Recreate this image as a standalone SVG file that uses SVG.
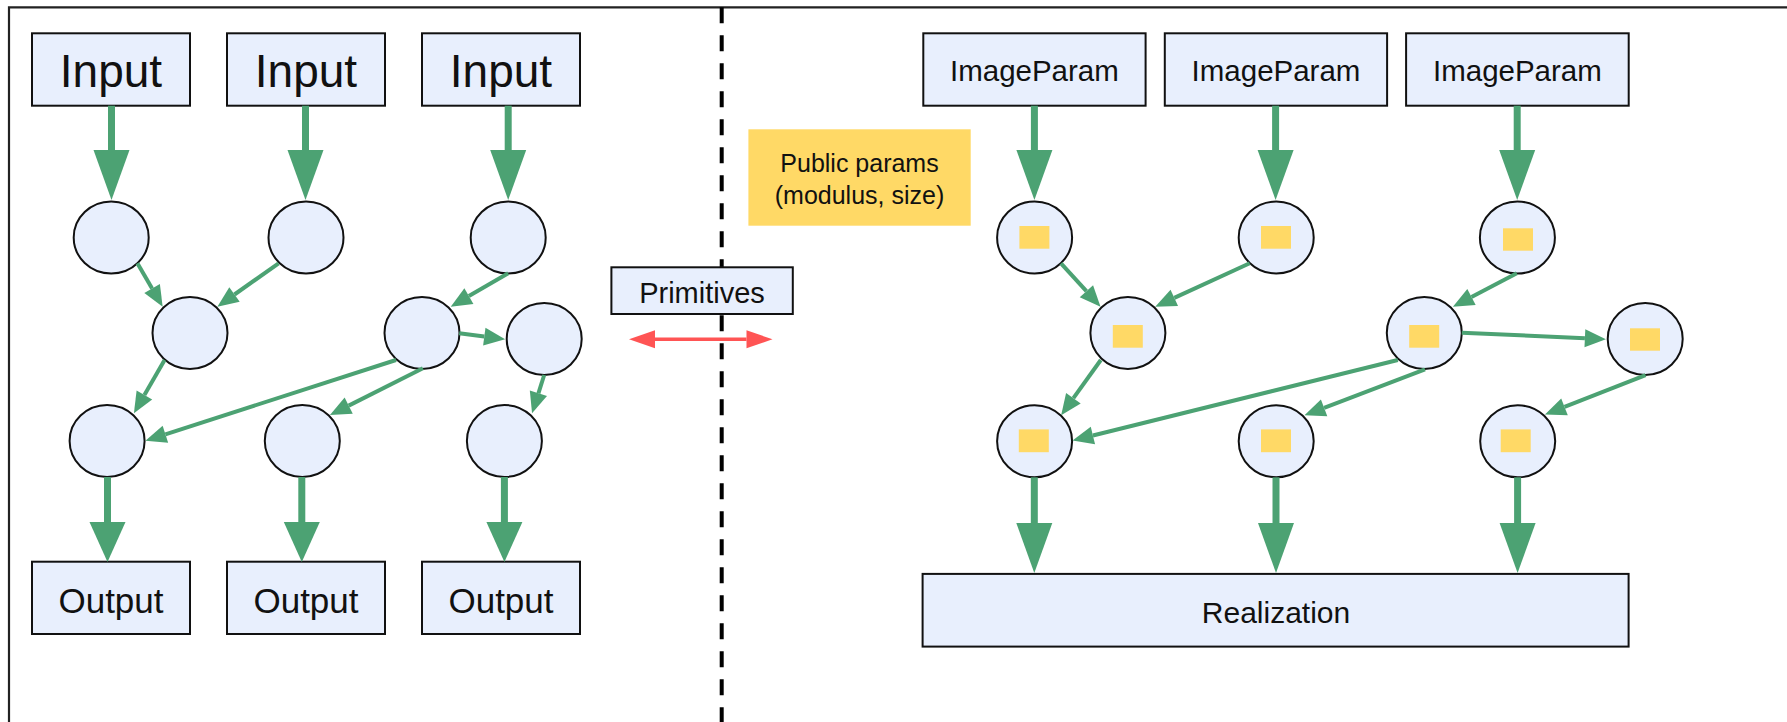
<svg xmlns="http://www.w3.org/2000/svg" width="1787" height="722" viewBox="0 0 1787 722">
  <style>
    .box { fill: #e8effd; stroke: #111; stroke-width: 2; }
    .op { fill: #e8effd; stroke: #111; stroke-width: 2; }
    .chip { fill: #ffd966; }
    .lbl { font-family: "Liberation Sans", Arial, sans-serif; fill: #111; text-anchor: middle; }
    .thick { stroke: #4ca273; stroke-width: 7; fill: none; }
    .thin { stroke: #4ca273; stroke-width: 4; fill: none; }
    .frame { stroke: #222; stroke-width: 2.2; fill: none; }
    .divider { stroke: #000; stroke-width: 4; stroke-dasharray: 16 12; fill: none; }
    .both { stroke: #ff5454; stroke-width: 3.5; fill: none; }
  </style>
  <defs>
    <marker id="headBig" markerUnits="userSpaceOnUse" orient="auto" refX="0" refY="0" markerWidth="52" markerHeight="38" viewBox="0 -19 52 38" overflow="visible">
      <path d="M0,-18 L50,0 L0,18 Z" fill="#4ca273"/>
    </marker>
    <marker id="headMid" markerUnits="userSpaceOnUse" orient="auto" refX="0" refY="0" markerWidth="42" markerHeight="38" viewBox="0 -19 42 38" overflow="visible">
      <path d="M0,-18 L40,0 L0,18 Z" fill="#4ca273"/>
    </marker>
    <marker id="headSmall" markerUnits="userSpaceOnUse" orient="auto" refX="0" refY="0" markerWidth="22" markerHeight="20" viewBox="0 -10 22 20" overflow="visible">
      <path d="M0,-9 L21,0 L0,9 Z" fill="#4ca273"/>
    </marker>
    <marker id="headRed" markerUnits="userSpaceOnUse" orient="auto-start-reverse" refX="0" refY="0" markerWidth="28" markerHeight="20" viewBox="0 -10 28 20" overflow="visible">
      <path d="M0,-9 L26,0 L0,9 Z" fill="#ff5454"/>
    </marker>
  </defs>

  <rect width="1787" height="722" fill="#ffffff"/>

  <!-- outer frame and dashed divider -->
  <path class="frame" d="M9,722 V7.3 H1787"/>
  <line class="divider" x1="721.7" y1="7.3" x2="721.7" y2="722"/>

  <!-- left graph: inputs -->
  <g id="input1"><rect class="box" x="32" y="33.3" width="158" height="72.4"/><text class="lbl" x="111" y="86.5" font-size="46">Input</text></g>
  <g id="input2"><rect class="box" x="227" y="33.3" width="158" height="72.4"/><text class="lbl" x="306" y="86.5" font-size="46">Input</text></g>
  <g id="input3"><rect class="box" x="422" y="33.3" width="158" height="72.4"/><text class="lbl" x="501" y="86.5" font-size="46">Input</text></g>

  <!-- left graph: operation nodes -->
  <g id="l_a1"><ellipse class="op" cx="111.2" cy="237.5" rx="37.5" ry="36"/></g>
  <g id="l_a2"><ellipse class="op" cx="306" cy="237.5" rx="37.5" ry="36"/></g>
  <g id="l_a3"><ellipse class="op" cx="508.2" cy="237.5" rx="37.5" ry="36"/></g>
  <g id="l_b1"><ellipse class="op" cx="190" cy="333" rx="37.5" ry="36"/></g>
  <g id="l_b2"><ellipse class="op" cx="422" cy="333" rx="37.5" ry="36"/></g>
  <g id="l_b3"><ellipse class="op" cx="544.2" cy="339" rx="37.5" ry="36"/></g>
  <g id="l_c1"><ellipse class="op" cx="107.1" cy="441" rx="37.5" ry="36"/></g>
  <g id="l_c2"><ellipse class="op" cx="302.3" cy="441" rx="37.5" ry="36"/></g>
  <g id="l_c3"><ellipse class="op" cx="504.4" cy="441" rx="37.5" ry="36"/></g>

  <!-- left graph: outputs -->
  <g id="output1"><rect class="box" x="32" y="561.7" width="158" height="72.3"/><text class="lbl" x="111" y="612.5" font-size="35">Output</text></g>
  <g id="output2"><rect class="box" x="227" y="561.7" width="158" height="72.3"/><text class="lbl" x="306" y="612.5" font-size="35">Output</text></g>
  <g id="output3"><rect class="box" x="422" y="561.7" width="158" height="72.3"/><text class="lbl" x="501" y="612.5" font-size="35">Output</text></g>

  <!-- middle -->
  <g id="primitives"><rect class="box" x="611.4" y="267.3" width="181.4" height="46.7"/><text class="lbl" x="702" y="302.5" font-size="29">Primitives</text></g>
  <g id="publicParams">
    <rect x="748.4" y="129.3" width="222.3" height="96.4" fill="#ffd966"/>
    <text class="lbl" x="859.5" y="172" font-size="25">Public params</text>
    <text class="lbl" x="859.5" y="204" font-size="25">(modulus, size)</text>
  </g>

  <!-- right graph: image params -->
  <g id="param1"><rect class="box" x="923.3" y="33.3" width="222.3" height="72.4"/><text class="lbl" x="1034.4" y="81" font-size="29.5">ImageParam</text></g>
  <g id="param2"><rect class="box" x="1164.8" y="33.3" width="222.3" height="72.4"/><text class="lbl" x="1276" y="81" font-size="29.5">ImageParam</text></g>
  <g id="param3"><rect class="box" x="1406.1" y="33.3" width="222.6" height="72.4"/><text class="lbl" x="1517.4" y="81" font-size="29.5">ImageParam</text></g>

  <!-- right graph: operation nodes holding public params -->
  <g id="r_a1"><ellipse class="op" cx="1034.6" cy="237.5" rx="37.5" ry="36"/><rect class="chip" x="1019.4" y="226" width="30" height="22.7"/></g>
  <g id="r_a2"><ellipse class="op" cx="1276.2" cy="237.5" rx="37.5" ry="36"/><rect class="chip" x="1261" y="226" width="30" height="22.7"/></g>
  <g id="r_a3"><ellipse class="op" cx="1517.4" cy="237.5" rx="37.5" ry="36"/><rect class="chip" x="1503" y="228.3" width="30" height="22.4"/></g>
  <g id="r_b1"><ellipse class="op" cx="1127.9" cy="333" rx="37.5" ry="36"/><rect class="chip" x="1112.8" y="325" width="30" height="22.7"/></g>
  <g id="r_b2"><ellipse class="op" cx="1424.3" cy="333" rx="37.5" ry="36"/><rect class="chip" x="1409.2" y="325" width="30" height="22.7"/></g>
  <g id="r_b3"><ellipse class="op" cx="1645.2" cy="339" rx="37.5" ry="36"/><rect class="chip" x="1630" y="328.3" width="30" height="22.4"/></g>
  <g id="r_c1"><ellipse class="op" cx="1034.6" cy="441.3" rx="37.5" ry="36"/><rect class="chip" x="1018.8" y="429.4" width="30" height="22.8"/></g>
  <g id="r_c2"><ellipse class="op" cx="1276.2" cy="441.3" rx="37.5" ry="36"/><rect class="chip" x="1261" y="429.4" width="30" height="22.8"/></g>
  <g id="r_c3"><ellipse class="op" cx="1517.7" cy="441.3" rx="37.5" ry="36"/><rect class="chip" x="1500.7" y="429.4" width="30" height="22.8"/></g>

  <g id="realization"><rect class="box" x="922.6" y="573.9" width="706" height="72.7"/><text class="lbl" x="1276" y="622.5" font-size="30">Realization</text></g>

  <!-- connectors -->
  <g id="connectors">
    <!-- left: inputs to first stage -->
    <line class="thick" x1="111.5" y1="105.7" x2="111.5" y2="150" marker-end="url(#headBig)"/>
    <line class="thick" x1="305.5" y1="105.7" x2="305.5" y2="150" marker-end="url(#headBig)"/>
    <line class="thick" x1="508.2" y1="105.7" x2="508.2" y2="150" marker-end="url(#headBig)"/>
    <!-- left: internal edges -->
    <line class="thin" x1="137.4" y1="263.3" x2="152.1" y2="288.5" marker-end="url(#headSmall)"/>
    <line class="thin" x1="278.6" y1="263.3" x2="234.5" y2="294.5" marker-end="url(#headSmall)"/>
    <line class="thin" x1="508.2" y1="273.3" x2="468.9" y2="296.1" marker-end="url(#headSmall)"/>
    <line class="thin" x1="459.2" y1="333.3" x2="484.3" y2="336.6" marker-end="url(#headSmall)"/>
    <line class="thin" x1="164.6" y1="360" x2="144.4" y2="395.1" marker-end="url(#headSmall)"/>
    <line class="thin" x1="396" y1="360" x2="165.4" y2="434.3" marker-end="url(#headSmall)"/>
    <line class="thin" x1="422.9" y1="368.3" x2="348.7" y2="405.6" marker-end="url(#headSmall)"/>
    <line class="thin" x1="544.2" y1="375" x2="538.4" y2="393.3" marker-end="url(#headSmall)"/>
    <!-- left: last stage to outputs -->
    <line class="thick" x1="107.5" y1="477" x2="107.5" y2="522" marker-end="url(#headMid)"/>
    <line class="thick" x1="301.8" y1="477" x2="301.8" y2="522" marker-end="url(#headMid)"/>
    <line class="thick" x1="504.4" y1="477" x2="504.4" y2="522" marker-end="url(#headMid)"/>

    <!-- middle: two-way arrow -->
    <line class="both" x1="655" y1="339.3" x2="746.5" y2="339.3" marker-start="url(#headRed)" marker-end="url(#headRed)"/>

    <!-- right: params to first stage -->
    <line class="thick" x1="1034.4" y1="105.7" x2="1034.4" y2="150" marker-end="url(#headBig)"/>
    <line class="thick" x1="1275.6" y1="105.7" x2="1275.6" y2="150" marker-end="url(#headBig)"/>
    <line class="thick" x1="1517.2" y1="105.7" x2="1517.2" y2="150" marker-end="url(#headBig)"/>
    <!-- right: internal edges -->
    <line class="thin" x1="1061" y1="263.3" x2="1086.4" y2="291.2" marker-end="url(#headSmall)"/>
    <line class="thin" x1="1249.7" y1="263.3" x2="1174.3" y2="297.9" marker-end="url(#headSmall)"/>
    <line class="thin" x1="1516.8" y1="273.3" x2="1471.5" y2="297" marker-end="url(#headSmall)"/>
    <line class="thin" x1="1461.8" y1="332.7" x2="1584.9" y2="338.3" marker-end="url(#headSmall)"/>
    <line class="thin" x1="1100.8" y1="360" x2="1073.4" y2="398.2" marker-end="url(#headSmall)"/>
    <line class="thin" x1="1397.8" y1="360" x2="1092.9" y2="435.5" marker-end="url(#headSmall)"/>
    <line class="thin" x1="1425" y1="369.4" x2="1324.1" y2="407.8" marker-end="url(#headSmall)"/>
    <line class="thin" x1="1645.6" y1="375.1" x2="1564.5" y2="406.9" marker-end="url(#headSmall)"/>
    <!-- right: last stage to realization -->
    <line class="thick" x1="1034.3" y1="477.3" x2="1034.3" y2="523" marker-end="url(#headBig)"/>
    <line class="thick" x1="1276" y1="477.3" x2="1276" y2="523" marker-end="url(#headBig)"/>
    <line class="thick" x1="1517.6" y1="477.3" x2="1517.6" y2="523" marker-end="url(#headBig)"/>
  </g>
</svg>
